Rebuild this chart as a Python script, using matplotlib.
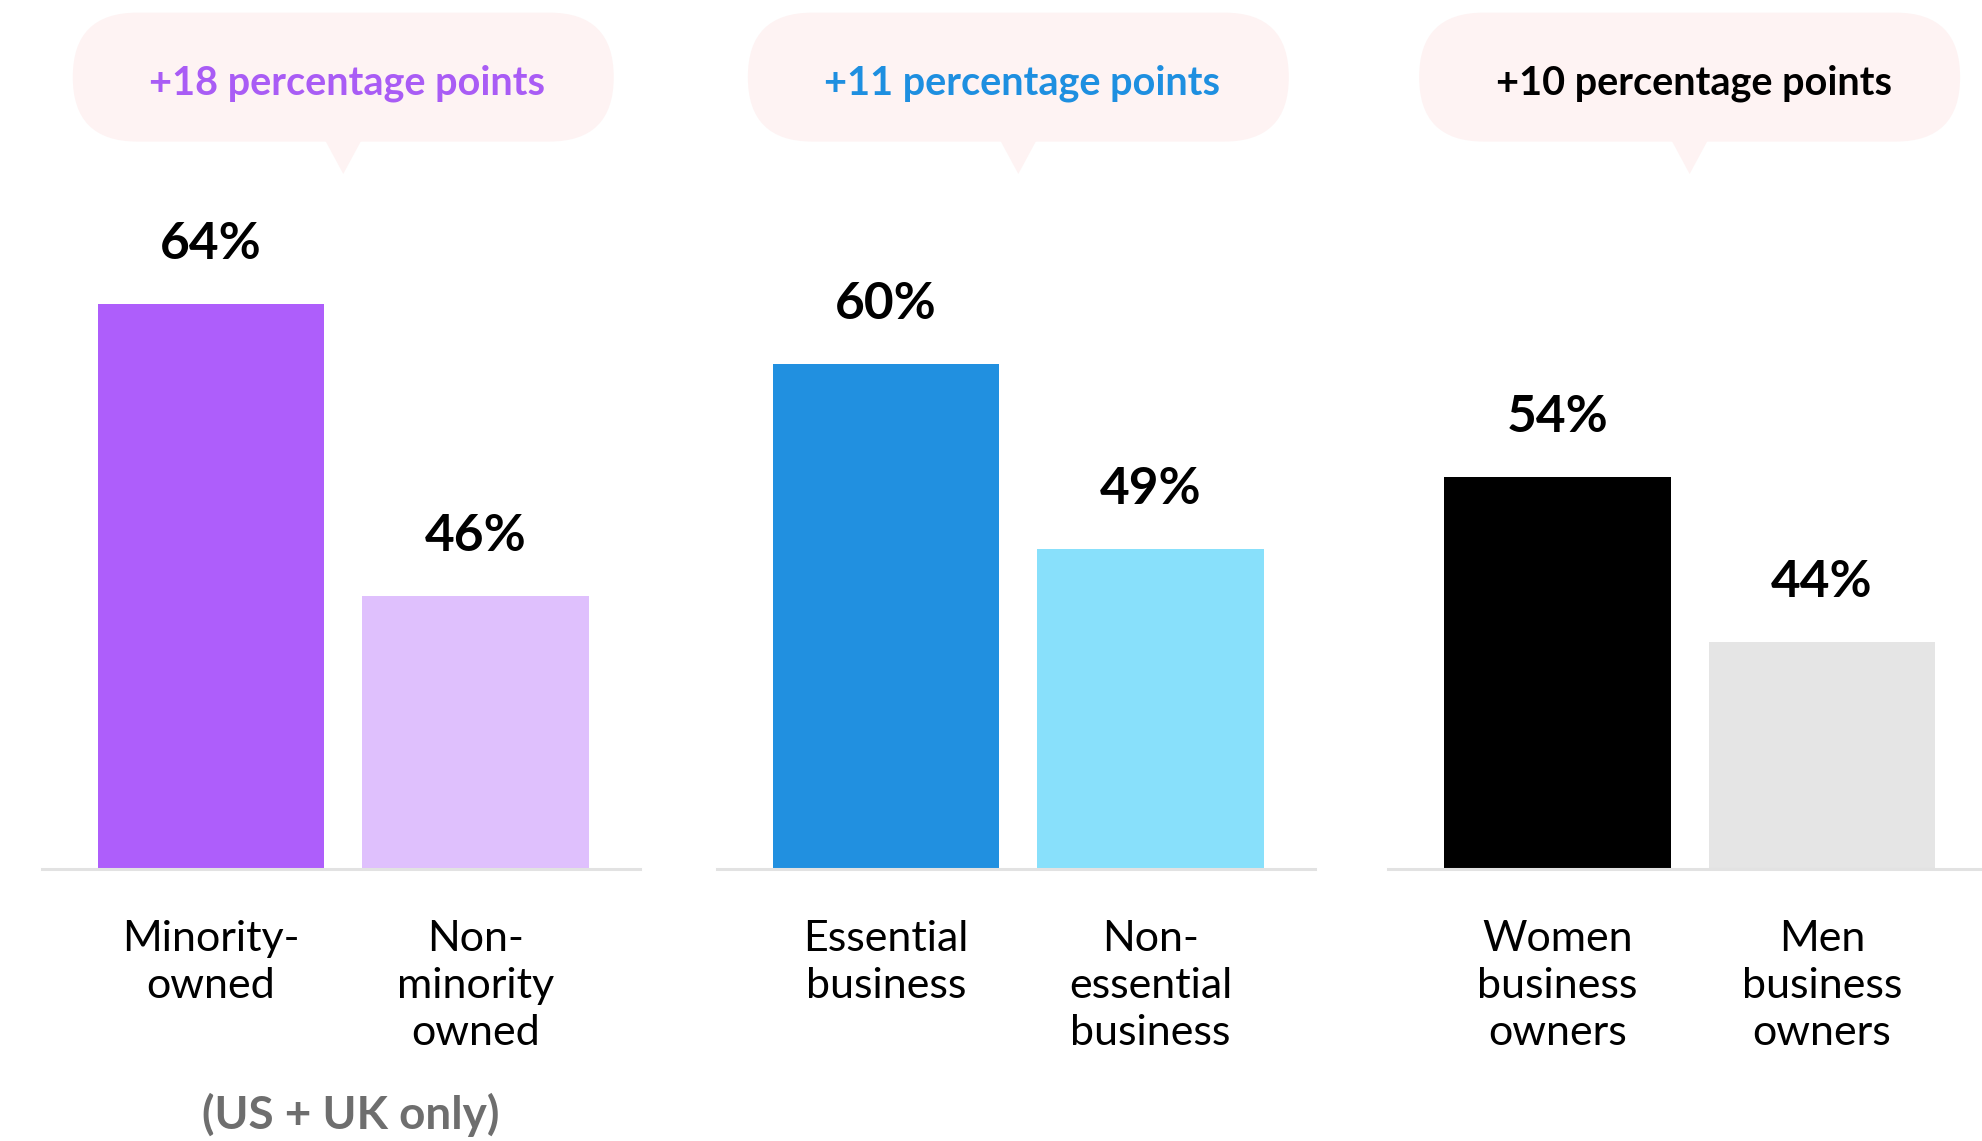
import matplotlib
matplotlib.use("Agg")
import matplotlib.pyplot as plt
from matplotlib.patches import FancyBboxPatch, Polygon

# ---------------- data ----------------
categories = [
    ["Minority-\nowned", "Non-\nminority\nowned"],
    ["Essential\nbusiness", "Non-\nessential\nbusiness"],
    ["Women\nbusiness\nowners", "Men\nbusiness\nowners"],
]
values = [[64, 46], [60, 49], [54, 44]]
differences = ["+18 percentage points", "+11 percentage points", "+10 percentage points"]
footnote = "(US + UK only)"

bar_colors = [["#AE5EFB", "#DFC0FD"], ["#2190E0", "#88E0FB"], ["#000000", "#E5E5E5"]]
bubble_text_colors = ["#A95CF5", "#1E8FE0", "#000000"]
bubble_fill = "#FEF3F3"
baseline_color = "#E2E2E2"
footnote_color = "#6E6E6E"

# per-panel value axis ranges (the axis does not start at zero)
y_ranges = [(29.17, 71.09), (29.98, 70.41), (30.24, 71.45)]

FONT = ["Lato", "DejaVu Sans"]
plt.rcParams["font.family"] = FONT

W, H = 1982, 1141
fig = plt.figure(figsize=(W / 100, H / 100), dpi=100)

panel_lefts = [0.021, 0.3616, 0.7003]
panel_w = 0.3017
panel_bottom = 0.2381
panel_h = 0.596

axes = []
for p, left in enumerate(panel_lefts):
    ax = fig.add_axes([left, panel_bottom, panel_w, panel_h])
    xs = list(range(len(values[p])))
    ax.bar(xs, values[p], width=0.856, color=bar_colors[p], zorder=2)
    ax.set_xlim(-0.64, 1.62)
    ax.set_ylim(*y_ranges[p])
    for s in ["top", "right", "left"]:
        ax.spines[s].set_visible(False)
    ax.spines["bottom"].set_color(baseline_color)
    ax.spines["bottom"].set_linewidth(2.2)
    ax.spines["bottom"].set_zorder(3)
    ax.set_xticks([])
    ax.set_yticks([])
    ax.patch.set_alpha(0)
    for i, v in enumerate(values[p]):
        ax.annotate(f"{v}%", (i, v), xytext=(0, 32.5), textcoords="offset points",
                    ha="center", va="baseline", fontsize=37, fontweight="bold",
                    color="#000000")
        ax.text(i, -0.075, categories[p][i], transform=ax.get_xaxis_transform(),
                ha="center", va="top", fontsize=31, fontweight="normal",
                linespacing=1.28, color="#000000")
    axes.append(ax)

# overlay in pixel coordinates (y up)
ov = fig.add_axes([0, 0, 1, 1])
ov.set_xlim(0, W)
ov.set_ylim(0, H)
ov.axis("off")
ov.patch.set_alpha(0)

bub_w, bub_h = 541, 129
bub_top = 12.6
tip_y = 174.0
tip_half = 18
for p, ax in enumerate(axes):
    cx = ax.transData.transform((0.5, y_ranges[p][0]))[0]
    top = H - bub_top
    bottom = top - bub_h
    ov.add_patch(FancyBboxPatch((cx - bub_w / 2, bottom), bub_w, bub_h,
                                boxstyle=f"round,pad=0,rounding_size={bub_h / 2}",
                                fc=bubble_fill, ec="none"))
    ov.add_patch(Polygon([(cx - tip_half, bottom + 1), (cx + tip_half, bottom + 1),
                          (cx, H - tip_y)], closed=True, fc=bubble_fill, ec="none"))
    ov.text(cx + 4, H - 94, differences[p], ha="center", va="baseline", fontsize=28.5,
            fontweight="bold", color=bubble_text_colors[p])

fx = axes[0].transData.transform((0.5, y_ranges[0][0]))[0]
ov.text(fx + 7, H - 1129, footnote, ha="center", va="baseline", fontsize=33,
        fontweight="bold", color=footnote_color)

fig.savefig("out.png", dpi=100, facecolor="white")
